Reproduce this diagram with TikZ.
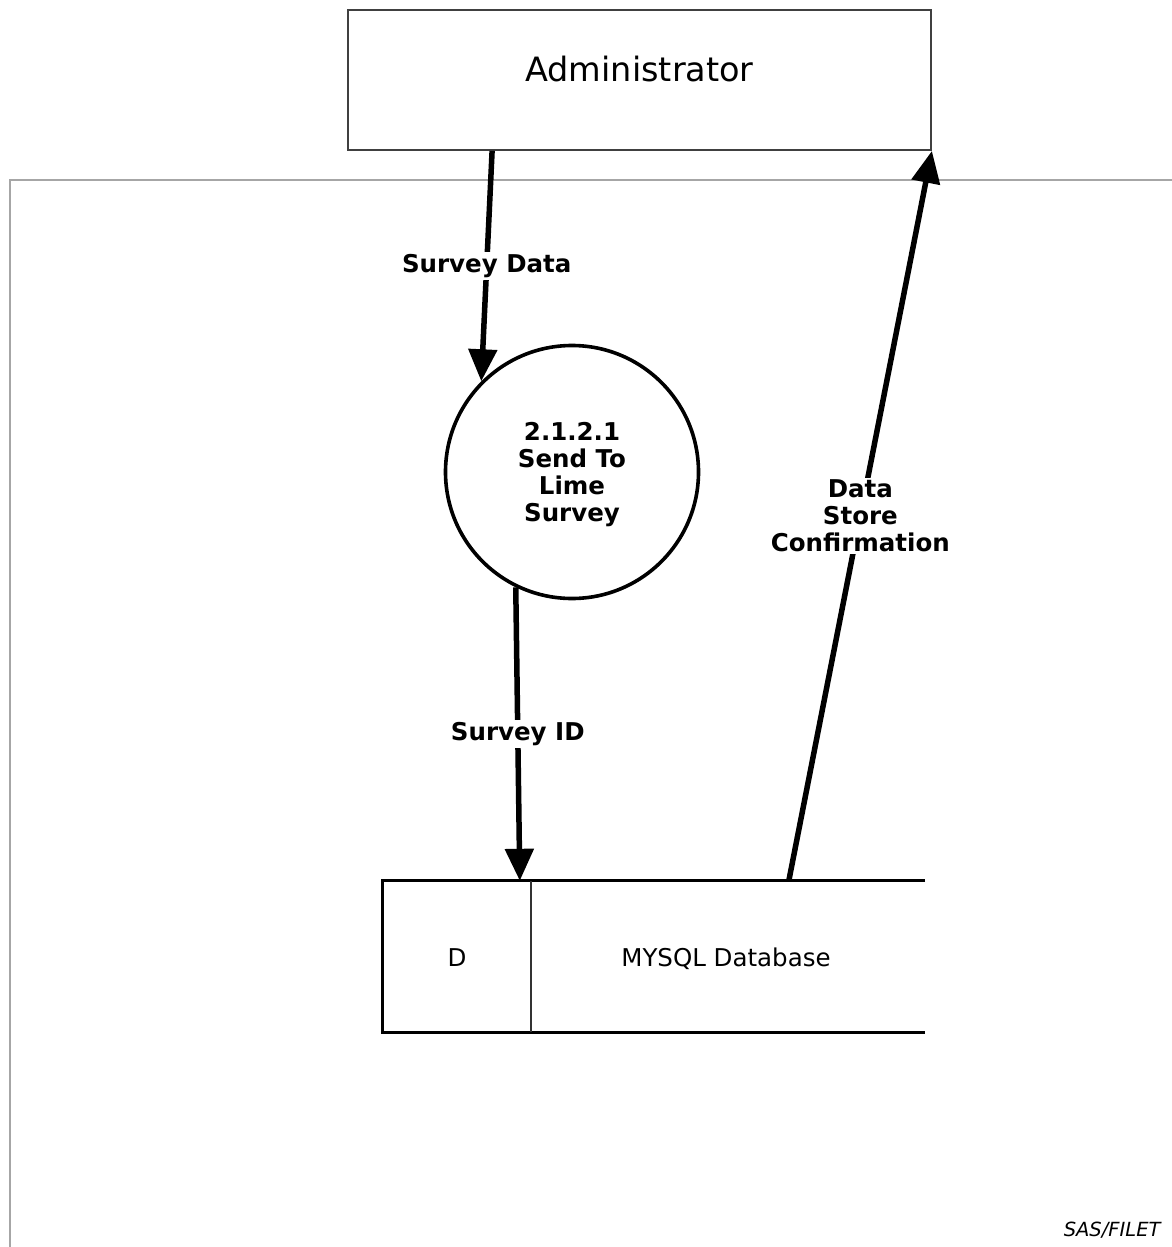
\documentclass[tikz,border=0pt]{standalone}
\usepackage{fontspec}
\setmainfont{DejaVu Sans}
\usetikzlibrary{arrows.meta}
\tikzset{
  flowarrow/.style={line width=5.5pt,-{Triangle[length=32pt,width=28pt]}},
  flowlabel/.style={font=\fontsize{24.5}{27}\selectfont\bfseries,fill=white,inner sep=2pt,align=center},
  entitybox/.style={draw=black!75,line width=1.8pt,minimum width=583pt,minimum height=140pt},
  procbubble/.style={circle,draw=black,line width=3.6pt,minimum size=253pt,align=center,font=\fontsize{24.5}{27}\selectfont\bfseries},
  storeline/.style={line width=3.3pt,black},
  frameline/.style={line width=1.6pt,black!35}
}
\begin{document}
\begin{tikzpicture}[x=1pt,y=-1pt]
\useasboundingbox (0,0) rectangle (1172,1247);
% frame
\coordinate (ftl) at (10,180);
\coordinate (ftr) at (1172,180);
\coordinate (fbl) at (10,1247);
\draw[frameline] (ftr) -- (ftl) -- (fbl);
% entity
\node[entitybox] (admin) at (639.5,80) {};
\node[font=\fontsize{33.5}{38}\selectfont] (admintext) at ([yshift=11pt]admin.center) {Administrator};
% process
\node[procbubble] (proc) at (572,472) {};
\node[font=\fontsize{24.5}{27}\selectfont\bfseries,align=center] (proctext) at ([yshift=-3pt]proc.center) {2.1.2.1\\Send To\\Lime\\Survey};
% data store
\node[minimum width=542pt,minimum height=151pt,inner sep=0pt] (ds) at (654,956.5) {};
\draw[storeline] (ds.north east) -- (ds.north west) -- (ds.south west) -- (ds.south east);
\draw[line width=1.6pt,black!80] ([xshift=148pt]ds.north west) -- ([xshift=148pt]ds.south west);
\node[font=\fontsize{24.5}{28}\selectfont,anchor=base] (dlab) at (457,966) {D};
\node[font=\fontsize{24.5}{28}\selectfont,anchor=base] (dsname) at (726,966) {MYSQL Database};
% flows
\draw[flowarrow] ([xshift=145pt]admin.south west) -- node[flowlabel]{Survey Data} (proc.135);
\draw[flowarrow] (proc.244.6) -- node[flowlabel]{Survey ID} ([xshift=137pt]ds.north west);
\draw[flowarrow] ([xshift=406pt]ds.north west) -- node[flowlabel]{Data\\Store\\Confirmation} (admin.south east);
% signature
\node[font=\fontsize{19.5}{22}\selectfont\itshape,anchor=base east] (sig) at (1164,1236) {SAS/FILET};
\end{tikzpicture}
\end{document}
